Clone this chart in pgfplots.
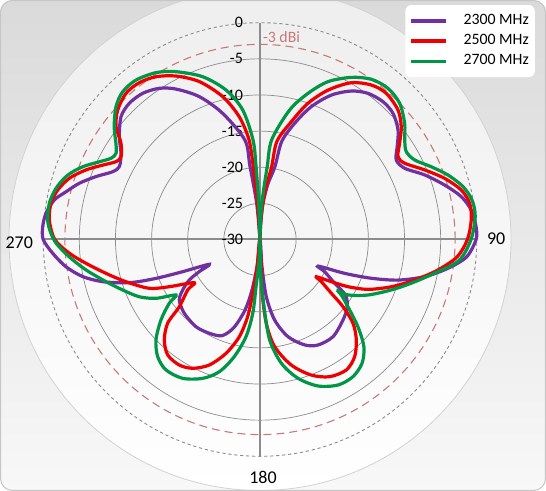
\documentclass[border=0pt]{standalone}
\usepackage{fontspec}
\setmainfont{Carlito}
\usepackage{pgfplots}
\usepackage{pgfplotstable}
\pgfplotsset{compat=1.18}
\definecolor{cpurple}{RGB}{112,48,160}
\definecolor{cred}{RGB}{238,0,0}
\definecolor{cgreen}{RGB}{0,150,70}
\definecolor{gridgray}{RGB}{140,140,140}
\definecolor{axgray}{RGB}{140,140,140}
\definecolor{dbirose}{RGB}{200,120,120}
\definecolor{bgtop}{RGB}{218,218,218}
\definecolor{bgbot}{RGB}{248,248,248}
\definecolor{cirtop}{RGB}{238,238,238}

% angle (deg, clockwise from top), gain (dBi)
\pgfplotstableread{
a db
0 -30
2.5 -28
4.7 -25
8 -22.3
11.6 -19.7
12.5 -16.1
16.6 -13.22
21.1 -10.30
26.3 -7.71
31.6 -5.88
36.5 -4.85
41.8 -4.44
46.5 -4.63
51.6 -5.62
55.9 -7.07
59.7 -8.17
63.8 -7.68
68.6 -5.52
73.6 -3.35
78.0 -1.52
82.1 -0.48
86.6 -0.05
90 -0.1
94.8 -1.3
98.7 -3.68
102.7 -6.64
106.4 -10.10
109.2 -13.69
111.8 -17.38
114.6 -21.17
116.5 -20.0
120.4 -18.02
123.0 -15.92
127.6 -14.75
134.1 -14.0
143.1 -13.18
151.2 -13.34
157.0 -14.15
163.9 -16.0
169.7 -18.68
173.7 -22.04
175.8 -26.23
180 -30
186 -26.5
189 -22.9
192 -20.0
196.5 -17.3
201.5 -15.7
208.4 -15.25
216.3 -15.03
225.7 -15.37
233.1 -16.04
236.8 -17.22
240.2 -18.72
242.1 -20.49
243.9 -22.19
247.4 -18.41
249.5 -14.64
251.7 -10.95
255.0 -7.46
258.2 -4.93
262.0 -2.89
266.2 -1.25
270 0.0
273.4 0.12
277.0 -0.17
280.9 -1.02
283.8 -2.35
287.3 -3.82
291.0 -5.70
294.7 -7.56
297.4 -8.08
301.8 -7.37
306.2 -5.88
311.5 -4.33
316.2 -3.88
321.3 -4.07
326.3 -4.86
330.8 -6.15
337.0 -8.53
343.5 -11.79
351.4 -16.1
352.2 -19.7
354.8 -25
360 -30
}\purpledata

\pgfplotstableread{
a db
0 -30
2.5 -27.5
4.5 -25
7 -22.3
9.1 -19.8
9.8 -16.2
14.9 -13.13
19.4 -10.02
24.5 -7.28
30.2 -4.90
35.8 -3.65
40.8 -3.27
46.8 -3.81
51.4 -4.98
55.4 -6.53
59.0 -7.73
62.2 -7.37
67.1 -5.26
71.7 -3.08
76.2 -1.32
80.3 -0.55
84.8 -0.65
90 -1.3
95.0 -2.60
99.7 -5.01
104.7 -7.87
109.8 -10.69
114.8 -13.55
118.2 -16.18
120.6 -18.53
123.5 -20.66
124.5 -19.70
127.0 -17.64
129.0 -15.22
132.0 -12.68
136.2 -10.74
141.1 -9.15
146.5 -8.35
153.1 -8.71
159.3 -9.95
166.0 -12.10
172.2 -15.03
175.7 -18.37
177.7 -23.0
180 -30
186 -26.2
187.7 -22.49
189.1 -19.18
192.0 -16.25
196.6 -13.57
202.0 -11.27
207.6 -9.89
212.7 -9.35
218.6 -9.54
223.6 -10.80
227.8 -12.75
230.2 -15.47
235.1 -17.80
236.7 -19.12
242.5 -15.85
246.2 -13.26
252.5 -10.56
257.6 -8.18
262.2 -5.70
265.9 -3.54
270 -1.6
275.3 -0.72
279.8 -0.65
283.7 -1.18
287.8 -2.29
291.8 -4.07
295.3 -5.92
298.4 -7.35
300.8 -7.61
304.7 -6.61
308.1 -4.69
312.3 -3.38
317.5 -2.56
322.4 -2.62
327.4 -3.27
332.8 -4.57
339.0 -6.60
345.4 -9.58
350.4 -12.77
353.7 -16.1
354.7 -19.8
356 -25
360 -30
}\reddata

\pgfplotstableread{
a db
0 -30
1.5 -27.5
3 -25
4.5 -22.5
5.7 -19.8
6.7 -16.1
12.9 -11.61
18.2 -8.71
23.3 -6.22
29.4 -4.25
34.8 -3.00
40.2 -2.59
45.7 -3.0
51.2 -4.32
55.5 -5.70
59.0 -6.39
62.8 -5.93
67.0 -4.25
71.1 -2.49
75.4 -0.97
79.5 -0.15
83.9 -0.05
90 -0.8
96.0 -2.3
100.9 -5.38
106.1 -8.21
111.0 -10.53
117.2 -13.20
122.2 -15.60
123.3 -17.09
124.3 -16.38
127.4 -14.68
131.7 -11.85
135.9 -9.34
140.5 -7.80
145.9 -7.07
151.8 -7.15
158.4 -8.20
164.7 -10.09
170.2 -12.62
174.5 -16.03
176.6 -20.69
178.8 -25.32
180 -30
182.5 -27
184.8 -23.44
185.6 -19.74
188.2 -16.41
192.4 -13.40
197.1 -10.86
202.4 -9.22
209.1 -8.01
215.8 -7.75
221.1 -8.47
226.0 -9.99
230.9 -12.34
234.9 -14.65
236.5 -16.07
240.5 -13.47
244.6 -11.52
249.8 -9.76
254.7 -7.90
260.1 -5.55
264.8 -3.50
268.9 -1.8
272 -1.0
275.2 -0.50
279.7 -0.42
284.1 -0.90
288.5 -1.94
292.3 -3.48
295.8 -5.30
298.6 -6.52
300.9 -6.78
303.7 -6.04
307.7 -4.50
312.7 -2.89
317.1 -2.09
322.1 -2.05
328.1 -2.80
333.4 -4.03
340.6 -6.12
347.2 -8.79
352.4 -11.92
356 -16.2
356.9 -19.9
358 -25
360 -30
}\greendata

\begin{document}
\begin{tikzpicture}
\begin{axis}[
  x=3.6135pt, y=3.6135pt,
  xmin=-35.976, xmax=39.574, ymin=-34.80, ymax=33.14,
  hide axis, clip=false,
  legend style={at={(axis cs:20.06,32.5)}, anchor=north west,
    fill=white, draw=none, rounded corners=3pt,
    font=\fontsize{7.9}{9.5}\selectfont,
    inner xsep=2pt, inner ysep=3.7pt, row sep=1.4pt, column sep=7pt,
    nodes={inner sep=1pt}},
  legend cell align=left,
  legend image code/.code={\draw[#1] (0pt,0pt) -- (17.5pt,0pt);},
]
% background
\shade[top color=bgtop, bottom color=bgbot, rounded corners=6pt]
  (axis cs:-35.976,-34.80) rectangle (axis cs:39.574,33.14);
\begin{scope}
\clip (axis cs:-35.976,-34.80) rectangle (axis cs:39.574,33.14);
\shade[top color=cirtop, bottom color=white] (axis cs:0,0) circle[radius=125.5pt];
\draw[gray!35, line width=0.4pt] (axis cs:0,0) circle[radius=125.5pt];
\end{scope}
\draw[gray!45, line width=0.5pt, rounded corners=6pt]
  (axis cs:-35.90,-34.73) rectangle (axis cs:39.50,33.07);
% grid circles
\pgfplotsinvokeforeach{5,10,15,20,25}{
  \draw[gridgray, line width=0.35pt] (axis cs:0,0) circle[radius=#1*3.6135pt];
}
\draw[gridgray, line width=0.45pt, dash pattern=on 1.6pt off 1.4pt] (axis cs:0,0) circle[radius=108.405pt];
\draw[dbirose, line width=0.55pt, dash pattern=on 4pt off 2.5pt] (axis cs:0,0) circle[radius=97.56pt];
% axis lines
\draw[axgray, line width=1pt] (axis cs:0,-30) -- (axis cs:0,30);
\draw[axgray, line width=1pt] (axis cs:-30,0) -- (axis cs:30,0);
% radial labels
\node[anchor=east, inner sep=0pt, font=\fontsize{8}{9}\selectfont] at (axis cs:-2.3,30) {0};
\node[anchor=east, inner sep=0pt, font=\fontsize{8}{9}\selectfont] at (axis cs:-2.3,25) {-5};
\node[anchor=east, inner sep=0pt, font=\fontsize{8}{9}\selectfont] at (axis cs:-2.3,20) {-10};
\node[anchor=east, inner sep=0pt, font=\fontsize{8}{9}\selectfont] at (axis cs:-2.3,15) {-15};
\node[anchor=east, inner sep=0pt, font=\fontsize{8}{9}\selectfont] at (axis cs:-2.3,10) {-20};
\node[anchor=east, inner sep=0pt, font=\fontsize{8}{9}\selectfont] at (axis cs:-2.3,5) {-25};
\node[anchor=east, inner sep=0pt, font=\fontsize{8}{9}\selectfont] at (axis cs:-2.3,0) {-30};
\node[anchor=west, inner sep=0pt, text=dbirose, font=\fontsize{7.9}{9}\selectfont] at (axis cs:0.37,27.99) {-3 dBi};
% angle labels
\node[anchor=east, inner sep=0pt, font=\fontsize{9}{10}\selectfont] at (axis cs:-31.37,-0.42) {270};
\node[anchor=west, inner sep=0pt, font=\fontsize{9}{10}\selectfont] at (axis cs:31.37,0.17) {90};
\node[anchor=center, inner sep=0pt, font=\fontsize{9}{10}\selectfont] at (axis cs:0.42,-32.97) {180};
% data
\addplot[cpurple, line width=1.6pt, smooth, tension=0.5] table[
  x expr={(\thisrow{db}+30)*sin(\thisrow{a})},
  y expr={(\thisrow{db}+30)*cos(\thisrow{a})}] {\purpledata};
\addlegendentry{2300 MHz}
\addplot[cred, line width=1.6pt, smooth, tension=0.5] table[
  x expr={(\thisrow{db}+30)*sin(\thisrow{a})},
  y expr={(\thisrow{db}+30)*cos(\thisrow{a})}] {\reddata};
\addlegendentry{2500 MHz}
\addplot[cgreen, line width=1.6pt, smooth, tension=0.5] table[
  x expr={(\thisrow{db}+30)*sin(\thisrow{a})},
  y expr={(\thisrow{db}+30)*cos(\thisrow{a})}] {\greendata};
\addlegendentry{2700 MHz}
\end{axis}
\pgfresetboundingbox
\path (current axis.south west) rectangle (current axis.north east);
\end{tikzpicture}
\end{document}
